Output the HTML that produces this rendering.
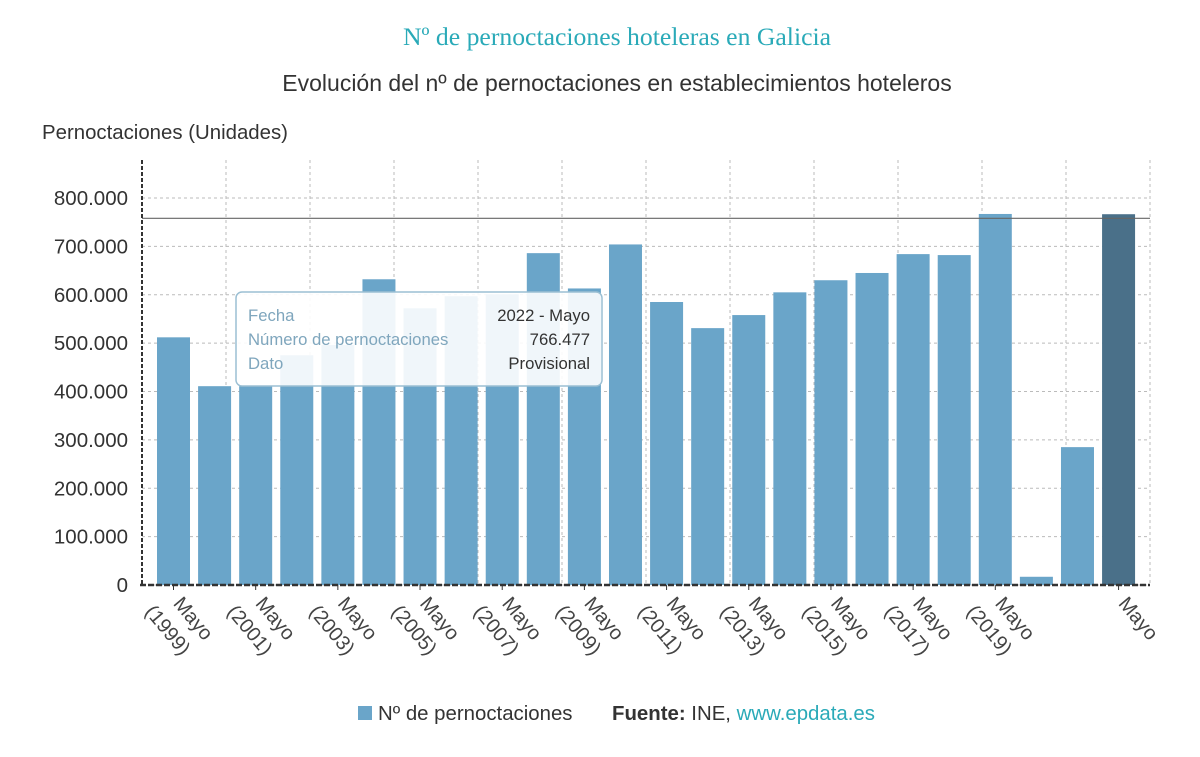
<!DOCTYPE html>
<html><head><meta charset="utf-8"><style>
body{margin:0;background:#fff;width:1200px;height:752px;overflow:hidden;font-family:"Liberation Sans",sans-serif}
</style></head><body>
<svg width="1200" height="752" id="svg" font-family="Liberation Sans, sans-serif">
<text x="617" y="45" text-anchor="middle" font-family="Liberation Serif, serif" font-size="25.7" fill="#2aaab8">Nº de pernoctaciones hoteleras en Galicia</text>
<text x="617" y="91" text-anchor="middle" font-size="23" fill="#333">Evolución del nº de pernoctaciones en establecimientos hoteleros</text>
<text x="42" y="139" font-size="20.4" fill="#333">Pernoctaciones (Unidades)</text>
<g id="grid"></g><g id="bars"></g><g id="axes"></g>
<g>
<rect x="358" y="706" width="14" height="14" fill="#6aa5c9"/>
<text x="378" y="720" font-size="20.4" fill="#333">Nº de pernoctaciones</text>
<text x="612" y="720" font-size="20.4" fill="#333"><tspan font-weight="bold">Fuente:</tspan> INE, <tspan fill="#2aaab8">www.epdata.es</tspan></text>
</g>
<g>
<rect x="236" y="292" width="366" height="94" rx="6" fill="#fff" fill-opacity="0.9" stroke="#9bbfd3" stroke-width="1.5"/>
<text x="248" y="321" font-size="16.7" fill="#7fa6bd">Fecha</text>
<text x="248" y="345" font-size="16.7" fill="#7fa6bd">Número de pernoctaciones</text>
<text x="248" y="369" font-size="16.7" fill="#7fa6bd">Dato</text>
<text x="590" y="321" font-size="16.7" fill="#333" text-anchor="end">2022 - Mayo</text>
<text x="590" y="345" font-size="16.7" fill="#333" text-anchor="end">766.477</text>
<text x="590" y="369" font-size="16.7" fill="#333" text-anchor="end">Provisional</text>
</g>
</svg>
<script>
const years=[1999,2000,2001,2002,2003,2004,2005,2006,2007,2008,2009,2010,2011,2012,2013,2014,2015,2016,2017,2018,2019,2020,2021,2022];
const values=[512000,411000,411000,475000,496000,632000,572000,597000,601000,686000,613000,704000,585000,531000,558000,605000,630000,645000,684000,682000,767000,17000,285000,766477];
const yTicks=[0,100000,200000,300000,400000,500000,600000,700000,800000];
const refLine=758000;
const NS="http://www.w3.org/2000/svg";
const x0=142,x1=1150,y0=585,yTop=160;
const y=v=>y0-v*387/800000;
const step=41.09,first=173.5;
const xc=i=>first+i*step;
function mk(t,a,p){const e=document.createElementNS(NS,t);for(const k in a)e.setAttribute(k,a[k]);p.appendChild(e);return e;}
const grid=document.getElementById('grid'),bars=document.getElementById('bars'),axes=document.getElementById('axes');
yTicks.forEach(v=>{
 const l=mk('line',{x1:x0,x2:x1,y1:y(v),y2:y(v),stroke:'#bbb','stroke-dasharray':'3,3'},grid);
 
 
 const t=mk('text',{x:128,y:y(v)+7,'text-anchor':'end','font-size':20.5,fill:'#333'},axes);
 t.textContent=v.toLocaleString('de-DE');
 
 
});
for(let k=1;k<=12;k++){
 const gx=x0+k*(x1-x0)/12;
 const g=mk('line',{x1:gx,x2:gx,y1:yTop,y2:y0,stroke:'#bbb','stroke-dasharray':'3,3'},grid);
 
 
}
values.forEach((v,i)=>{
 const r=mk('rect',{x:xc(i)-16.5,y:y(v),width:33,height:y0-y(v),fill:i===values.length-1?'#4a7089':'#6aa5c9'},bars);
 
 
});
const rl=mk('line',{x1:x0,x2:x1,y1:y(refLine),y2:y(refLine),stroke:'#666','stroke-width':1.2},axes);


const ya=mk('line',{x1:x0,x2:x0,y1:yTop,y2:y0,stroke:'#333','stroke-width':2,'stroke-dasharray':'4,2'},axes);


const xa=mk('line',{x1:x0-2,x2:x1,y1:y0,y2:y0,stroke:'#333','stroke-width':2.5,'stroke-dasharray':'6,2'},axes);


years.forEach((yr,i)=>{
 const last=i===years.length-1;
 if(!((i%2===0&&i<=20)||last))return;
 const tk=mk('line',{x1:xc(i),x2:xc(i),y1:y0,y2:y0+5,stroke:'#333'},axes);
 
 
 const t=mk('text',{transform:`translate(${xc(i)-1},${y0+19}) rotate(50)`,'font-size':20,fill:'#444'},axes);
 
 
 const a=mk('tspan',{x:0,dy:0},t);a.textContent='Mayo';
 if(!last){const b=mk('tspan',{x:-12,dy:27},t);b.textContent='('+yr+')';}
});
</script>
</body></html>
